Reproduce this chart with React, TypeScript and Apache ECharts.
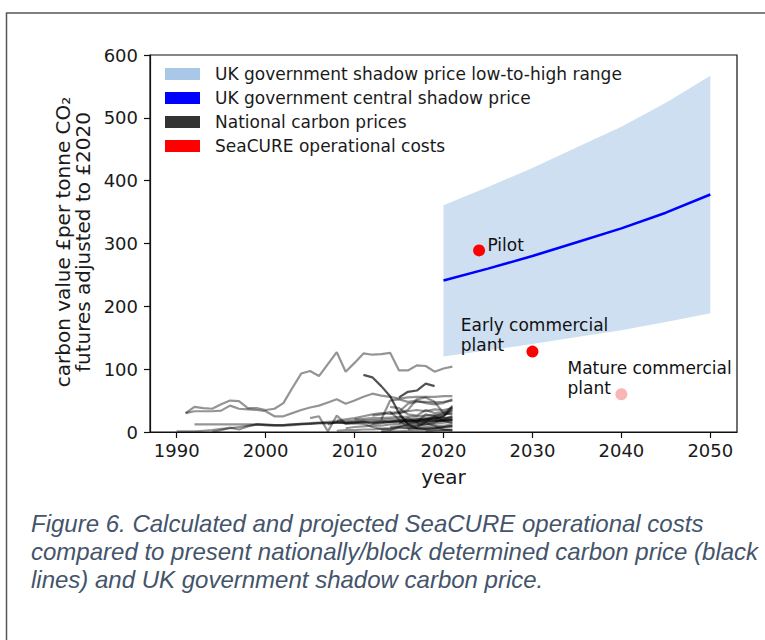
import React, { useEffect, useRef } from 'react';
import * as echarts from 'echarts';

// UK government shadow carbon price (BEIS, £2020 per tonne CO2)
const shadowYears = [2020, 2025, 2030, 2035, 2040, 2045, 2050];
const centralPrice = [241, 260, 280, 302, 324, 349, 378];
const lowPrice = [120, 130, 140, 151, 162, 175, 189];
const highPrice = [361, 390, 420, 453, 486, 524, 567];

// SeaCURE operational costs
const seacureYears = [2024, 2030, 2040];
const seacureCost = [289, 128, 60];
const seacureColors = ['#ff0000', '#ff0000', '#f9b4b4'];
const annotationYears = [2025, 2022, 2034];
const annotationValues = [287, 128, 60];
const annotationTexts = ['Pilot', 'Early commercial\nplant', 'Mature commercial\nplant'];

// National carbon prices: [start year, values...]
const natA = [1991, 30, 40, 38, 37, 44, 50, 49, 38, 38, 35, 37, 46, 70, 93, 97, 89, 108, 127, 96, 110, 125, 123, 124, 126, 98, 98, 106, 105, 96, 101, 104];
const natB = [1991, 30, 33, 33, 33, 34, 42, 37, 36, 35, 33, 25, 25, 30, 35, 39, 42, 47, 52, 45, 50, 56, 61, 58, 56, 53, 55, 56, 56, 56, 57, 57];
const natC = [1992, 12, 12, 12, 12, 12, 12, 12, 12, 12, 11, 11, 12, 13, 14, 15, 16, 17, 17, 18, 18, 19, 19, 20, 20, 20, 21, 21, 22, 22, 22];
const natD = [1990, 1, 1, 1, 2, 3, 5, 6, 8, 10, 12, 11, 11, 11, 12, 13, 13, 14, 14, 15, 15, 16, 16, 16, 17, 17, 18, 18, 18, 19, 19, 19, 20];
const natE = [1994, 0, 3, 7, 4, 9, 12, 11, 10, 10, 11, 12, 13, 14, 14, 15, 14, 14, 15, 15, 16, 16, 16, 17, 17, 18, 18, 18, 19];
const natF = [2011, 91, 87, 73, 57, 30, 12, 6, 5, 6, 8, 10];
const natG = [2015, 55, 64, 66, 77, 73];
const natH = [2014, 30, 32, 45, 48, 48, 47, 48, 50];
const natI = [2008, 18, 20, 22, 25, 28, 30, 29, 30, 33, 35, 33, 36, 35, 38];
const natJ = [2013, 20, 50, 52, 48, 50, 46, 44, 46, 52];
const natK = [2015, 30, 35, 52, 55, 48, 30, 28];
const natL = [2005, 22, 25, 1, 26, 13, 14, 13, 8, 5, 6, 8, 6, 7, 16, 24, 24, 42];
const natM1 = [2008, 2, 3, 3, 4, 4, 5, 5, 6, 6, 7, 8, 9, 10, 12];
const natM2 = [2010, 20, 21, 22, 22, 23, 24, 24, 25, 26, 27, 28, 30];
const natM3 = [2012, 14, 15, 16, 18, 8, 10, 12, 15, 20, 25];
const natM4 = [2013, 2, 3, 8, 12, 14, 16, 17, 18, 19];
const natM5 = [2014, 8, 9, 10, 11, 12, 13, 15, 16];
const natM6 = [2015, 25, 18, 20, 22, 21, 22, 24];
const natM7 = [2016, 4, 5, 5, 6, 7, 8];
const natM8 = [2017, 12, 14, 10, 4, 2];
const natM9 = [2018, 1, 2, 3, 4];
const natM10 = [2012, 26, 28, 32, 20, 15, 18, 20, 22, 26, 35];
const natM11 = [2007, 12, 16, 14, 15, 17, 13, 14, 16, 17, 18, 17, 20, 25, 30, 40];
const natM12 = [2009, 6, 8, 9, 10, 10, 12, 13, 14, 15, 16, 17, 18, 20];
const natM13 = [2013, 0, 1, 1, 2, 2, 2, 3, 3, 3];
const natM14 = [2019, 20, 25, 38];
const natM15 = [2015, 14, 22, 16, 28, 25, 18, 14];
const natM16 = [2014, 40, 38, 28, 26, 35, 30, 32, 33];

const lightLines = [natA, natB, natC, natD, natE, natH, natI, natJ, natK, natL, natM1, natM2, natM3, natM4, natM5, natM6, natM7, natM8, natM9, natM10, natM11, natM12, natM13, natM14, natM15, natM16];
const darkLines = [natF, natG];

const xTicks = [1990, 2000, 2010, 2020, 2030, 2040, 2050];

const FONT = 'DejaVu Sans';
const NAT = 'National carbon prices';

function toPairs(line: number[]) {
  const start = line[0];
  return line.slice(1).map((v, i) => [start + i, v]);
}

function natSeries(line: number[], color: string) {
  return {
    type: 'line',
    name: NAT,
    data: toPairs(line),
    showSymbol: false,
    symbol: 'none',
    silent: true,
    z: 3,
    lineStyle: { color, width: 2.2 },
    itemStyle: { color },
  };
}

export default function App() {
  const ref = useRef<HTMLDivElement>(null);
  useEffect(() => {
    const chart = echarts.init(ref.current as HTMLDivElement, null, { renderer: 'svg' });
    const option: any = {
      animation: false,
      backgroundColor: '#ffffff',
      grid: {
        left: 150, top: 55, width: 587, height: 377,
        show: true, borderColor: '#111', borderWidth: 1.2, backgroundColor: 'transparent',
      },
      legend: {
        left: 165, top: 64, orient: 'vertical', padding: 0,
        itemWidth: 35, itemHeight: 12, itemGap: 4, icon: 'rect', selectedMode: false,
        textStyle: { fontSize: 17, fontFamily: FONT, color: '#1a1a1a', lineHeight: 20, padding: [0, 0, 0, 10] },
        data: [
          { name: 'UK government shadow price low-to-high range', itemStyle: { color: '#a9c7e6' } },
          { name: 'UK government central shadow price', itemStyle: { color: '#0000ff' } },
          { name: NAT, itemStyle: { color: '#333333' } },
          { name: 'SeaCURE operational costs', itemStyle: { color: '#ff0000', opacity: 1 } },
        ],
      },
      xAxis: {
        type: 'value', min: 1987, max: 2053,
        splitLine: { show: false },
        axisLine: { show: true, onZero: false, lineStyle: { color: '#111', width: 1.2 } },
        axisTick: { show: true, length: 6, customValues: xTicks, lineStyle: { color: '#111', width: 1.2 } },
        axisLabel: {
          customValues: xTicks, fontSize: 18, fontFamily: FONT, color: '#1a1a1a', margin: 9,
          formatter: (v: number) => String(v),
        },
        name: 'year', nameLocation: 'middle', nameGap: 35,
        nameTextStyle: { fontSize: 20, fontFamily: FONT, color: '#1a1a1a' },
      },
      yAxis: {
        type: 'value', min: 0, max: 600, interval: 100,
        splitLine: { show: false },
        axisLine: { show: true, lineStyle: { color: '#111', width: 1.2 } },
        axisTick: { show: true, length: 6, lineStyle: { color: '#111', width: 1.2 } },
        axisLabel: { fontSize: 18, fontFamily: FONT, color: '#1a1a1a', margin: 12 },
      },
      graphic: [
        {
          type: 'rect', silent: true, z: 100,
          shape: { x: 6.5, y: 13, width: 900, height: 800 },
          style: { fill: 'none', stroke: '#555', lineWidth: 1.5 },
        },
        {
          type: 'text', x: 73, y: 242, rotation: Math.PI / 2, silent: true,
          style: {
            text: 'carbon value £per tonne CO₂\nfutures adjusted to £2020',
            fontSize: 20, fontFamily: FONT, fill: '#1a1a1a',
            align: 'center', verticalAlign: 'middle', lineHeight: 20,
          },
        },
        {
          type: 'text', x: 31, y: 509, silent: true,
          style: {
            text: 'Figure 6. Calculated and projected SeaCURE operational costs\ncompared to present nationally/block determined carbon price (black\nlines) and UK government shadow carbon price.',
            fontSize: 24, fontStyle: 'italic', fontFamily: 'Liberation Sans', fill: '#44546a',
            lineHeight: 28, align: 'left', verticalAlign: 'top',
          },
        },
      ],
      series: [
        {
          type: 'custom',
          name: 'UK government shadow price low-to-high range',
          data: shadowYears.map((y, i) => [y, lowPrice[i], highPrice[i]]),
          encode: { x: 0, y: [1, 2] },
          z: 1, silent: true,
          itemStyle: { color: '#a9c7e6' },
          renderItem: (params: any, api: any) => {
            if (params.dataIndex !== 0) return null;
            const upper = shadowYears.map((y, i) => api.coord([y, highPrice[i]]));
            const lower = shadowYears.map((y, i) => api.coord([y, lowPrice[i]])).reverse();
            return {
              type: 'polygon',
              shape: { points: upper.concat(lower) },
              style: { fill: '#cddff0', stroke: 'none' },
            };
          },
        },
        ...lightLines.map((l) => natSeries(l, 'rgba(0,0,0,0.42)')),
        ...darkLines.map((l) => natSeries(l, 'rgba(0,0,0,0.68)')),
        {
          type: 'line',
          name: 'UK government central shadow price',
          data: shadowYears.map((y, i) => [y, centralPrice[i]]),
          showSymbol: false, symbol: 'none', z: 4, silent: true,
          lineStyle: { color: '#0000ff', width: 2.5 },
          itemStyle: { color: '#0000ff' },
        },
        {
          type: 'scatter',
          name: 'SeaCURE operational costs',
          data: seacureYears.map((y, i) => ({ value: [y, seacureCost[i]], itemStyle: { color: seacureColors[i], opacity: 1 } })),
          symbolSize: 12, z: 5, silent: true,
          itemStyle: { color: '#ff0000', opacity: 1 },
        },
        {
          type: 'scatter',
          name: 'annotations',
          data: annotationYears.map((y, i) => [y, annotationValues[i]]),
          symbolSize: 1, z: 6, silent: true,
          itemStyle: { color: 'rgba(0,0,0,0)', opacity: 1 },
          label: {
            show: true,
            formatter: (p: any) => annotationTexts[p.dataIndex],
            position: [0, 4],
            align: 'left', verticalAlign: 'bottom', opacity: 1,
            fontSize: 17, fontFamily: FONT, color: '#111', lineHeight: 20,
          },
        },
      ],
    };
    chart.setOption(option);
    return () => chart.dispose();
  }, []);
  return (
    <div style={{ position: 'fixed', left: 0, top: 0, width: 765, height: 640, background: '#fff', overflow: 'hidden' }}>
      <div ref={ref} style={{ width: 765, height: 640 }} />
    </div>
  );
}
